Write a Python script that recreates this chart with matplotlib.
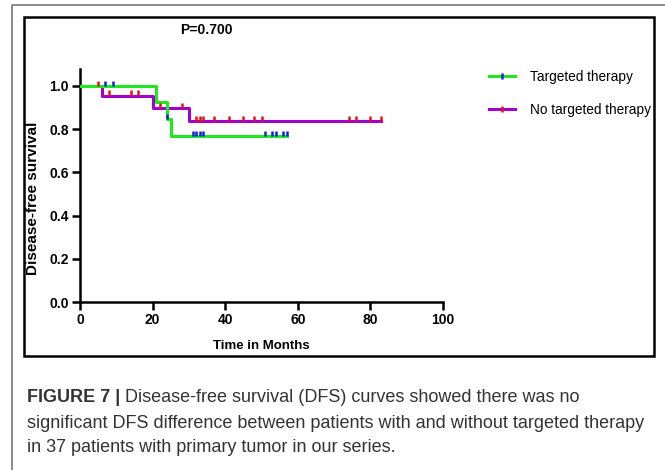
import numpy as np
import matplotlib
matplotlib.use("Agg")
import matplotlib.pyplot as plt
from matplotlib.lines import Line2D
from matplotlib.legend_handler import HandlerTuple

plt.rcParams['font.family'] = ['Liberation Sans', 'DejaVu Sans']

# Kaplan-Meier steps
tgt_times = [0, 21, 24, 25]
tgt_surv = [1.0, 0.923, 0.846, 0.769]
tgt_censor = [7, 9, 24, 31, 32, 33, 34, 51, 53, 54, 56, 57]

no_times = [0, 6, 20, 30]
no_surv = [1.0, 0.955, 0.897, 0.835]
no_censor = [5, 8, 14, 16, 22, 28, 32, 33, 34, 37, 41, 45, 48, 50, 74, 76, 80, 83]

labels = ["Targeted therapy", "No targeted therapy"]
p_text = "P=0.700"
y_ticks = [0.0, 0.2, 0.4, 0.6, 0.8, 1.0]
x_ticks = [0, 20, 40, 60, 80, 100]

caption_bold = "FIGURE 7 | "
caption_lines = [
    "Disease-free survival (DFS) curves showed there was no",
    "significant DFS difference between patients with and without targeted therapy",
    "in 37 patients with primary tumor in our series.",
]

green = '#1ee81e'
purple = '#a000d0'
red = '#e8101a'
blue = '#1020e0'

W, H = 665, 470
fig = plt.figure(figsize=(W / 100, H / 100), dpi=100)


def fx(px):
    return px / W


def fy(py):
    return 1 - py / H


# frame lines: grey outer (top + left), black inner box
fig.add_artist(Line2D([fx(12), fx(12), fx(665)], [fy(470), fy(4.5), fy(4.5)],
                      color='#777777', lw=1.2))
fig.add_artist(plt.Rectangle((fx(24.5), fy(356)), fx(654) - fx(24.5), fy(17) - fy(356),
                             fill=False, edgecolor='black', lw=1.8))

ax = fig.add_axes([fx(80), fy(302), fx(443) - fx(80), fy(68.5) - fy(302)])


def step_xy(times, surv, censor):
    x = list(times) + [max(censor)]
    y = list(surv) + [surv[-1]]
    return x, y


def surv_at(times, surv, t):
    i = np.searchsorted(times, t, side='right') - 1
    return surv[i]


x, y = step_xy(no_times, no_surv, no_censor)
ax.step(x, y, where='post', color=purple, lw=2.2, zorder=3)
x, y = step_xy(tgt_times, tgt_surv, tgt_censor)
ax.step(x, y, where='post', color=green, lw=2.2, zorder=4)

cy = [surv_at(no_times, no_surv, t) for t in no_censor]
ax.vlines(no_censor, cy, np.array(cy) + 0.024, color=red, lw=1.8, zorder=5)
cy = [surv_at(tgt_times, tgt_surv, t) for t in tgt_censor]
ax.vlines(tgt_censor, cy, np.array(cy) + 0.024, color=blue, lw=1.8, zorder=5)

ax.set_xlim(0, 100)
ax.set_ylim(0, 1.08)
ax.set_xticks(x_ticks)
ax.set_yticks(y_ticks)
ax.set_yticklabels([f"{v:.1f}" for v in y_ticks])
for s in ['top', 'right']:
    ax.spines[s].set_visible(False)
for s in ['left', 'bottom']:
    ax.spines[s].set_linewidth(1.8)
ax.tick_params(length=6, width=1.8, pad=2, labelsize=10)
for lab in ax.get_xticklabels() + ax.get_yticklabels():
    lab.set_fontweight('bold')
ax.patch.set_visible(False)

fig.text(fx(261), fy(346), "Time in Months", ha='center', va='center',
         fontsize=9.5, fontweight='bold')
fig.text(fx(33), fy(198), "Disease-free survival", ha='center', va='center',
         rotation=90, fontsize=11, fontweight='bold')
fig.text(fx(206), fy(30), p_text, ha='center', va='center',
         fontsize=10, fontweight='bold')

handles = [
    (Line2D([], [], color=green, lw=2.2), Line2D([], [], color=blue, marker='|', ls='none', ms=5, mew=1.8)),
    (Line2D([], [], color=purple, lw=2.2), Line2D([], [], color=red, marker='|', ls='none', ms=5, mew=1.8)),
]
fig.legend(handles, labels, loc='upper left', bbox_to_anchor=(fx(477), fy(58)),
           frameon=False, fontsize=9.8, handlelength=1.9, handletextpad=1.1,
           labelspacing=1.35, handler_map={tuple: HandlerTuple(ndivide=1)})

# caption: bold lead-in then normal text
fig.canvas.draw()
r = fig.canvas.get_renderer()
t = fig.text(fx(27), fy(398), caption_bold, ha='left', va='center',
             fontsize=13, fontweight='bold', color='#333333')
bw = t.get_window_extent(r).width
fig.text(fx(27) + bw / W, fy(398), caption_lines[0], ha='left', va='center',
         fontsize=13, color='#333333')
for i, line in enumerate(caption_lines[1:]):
    fig.text(fx(27), fy(423 + 25 * i), line, ha='left', va='center',
             fontsize=13, color='#333333')

fig.savefig('out.png', dpi=100)
